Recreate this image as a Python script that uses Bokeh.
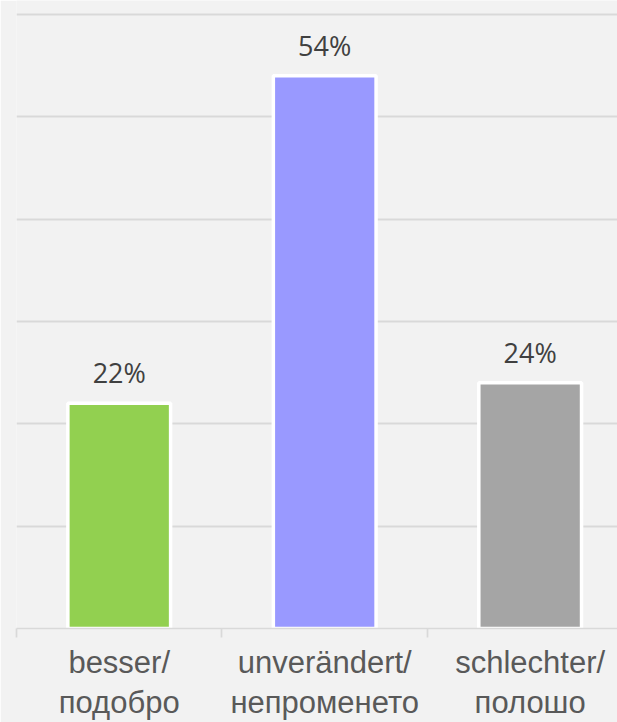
from bokeh.plotting import figure
from bokeh.models import ColumnDataSource, Range1d, FixedTicker, LabelSet
from bokeh.core.properties import value
from bokeh.embed import file_html
from bokeh.resources import INLINE

categories = ["besser/\nподобро", "unverändert/\nнепроменето", "schlechter/\nполошо"]
values = [22, 54, 24]
labels = ["22%", "54%", "24%"]
colors = ["#92d050", "#9999ff", "#a5a5a5"]
grid_ticks = [10, 20, 30, 40, 50, 60]

xs = [i + 0.5 for i in range(len(categories))]
bounds = [i for i in range(len(categories) + 1)]

src = ColumnDataSource(dict(x=xs, v=values, lab=labels, c=colors))

W, H = 617, 722
p = figure(width=W, height=H, output_backend="svg", toolbar_location=None,
           x_range=Range1d(0, 2.925), y_range=Range1d(0, 61.36),
           min_border_left=16, min_border_right=0, min_border_top=0, min_border_bottom=92)
p.background_fill_color = "#f2f2f2"
p.border_fill_color = "#f2f2f2"
p.outline_line_color = None

p.vbar(x="x", top="v", bottom=0, width=0.5, source=src, fill_color="c",
       line_color="white", line_width=3.5)

p.add_layout(LabelSet(x="x", y="v", text="lab", source=src, y_offset=20,
                      text_align="center", text_baseline="alphabetic",
                      text_font=value("Open Sans"), text_font_size="27px",
                      text_color="#404040"))

p.yaxis.visible = False
p.ygrid.ticker = FixedTicker(ticks=grid_ticks)
p.ygrid.grid_line_color = "#d9d9d9"
p.ygrid.grid_line_width = 2
p.xgrid.grid_line_color = None

ax = p.xaxis[0]
ax.ticker = FixedTicker(ticks=xs, minor_ticks=bounds)
ax.major_label_overrides = {x: c for x, c in zip(xs, categories)}
ax.axis_line_color = "#d9d9d9"
ax.axis_line_width = 1.7
ax.major_tick_out = 9
ax.major_tick_in = 0
ax.major_tick_line_color = None
ax.minor_tick_out = 9
ax.minor_tick_in = 0
ax.minor_tick_line_color = "#d9d9d9"
ax.minor_tick_line_width = 1.7
ax.major_label_standoff = 7
ax.major_label_text_font = "Liberation Sans"
ax.major_label_text_font_size = "31px"
ax.major_label_text_line_height = 1.15
ax.major_label_text_color = "#595959"
ax.major_label_orientation = "horizontal"

open("out.html", "w").write(file_html(p, INLINE))
